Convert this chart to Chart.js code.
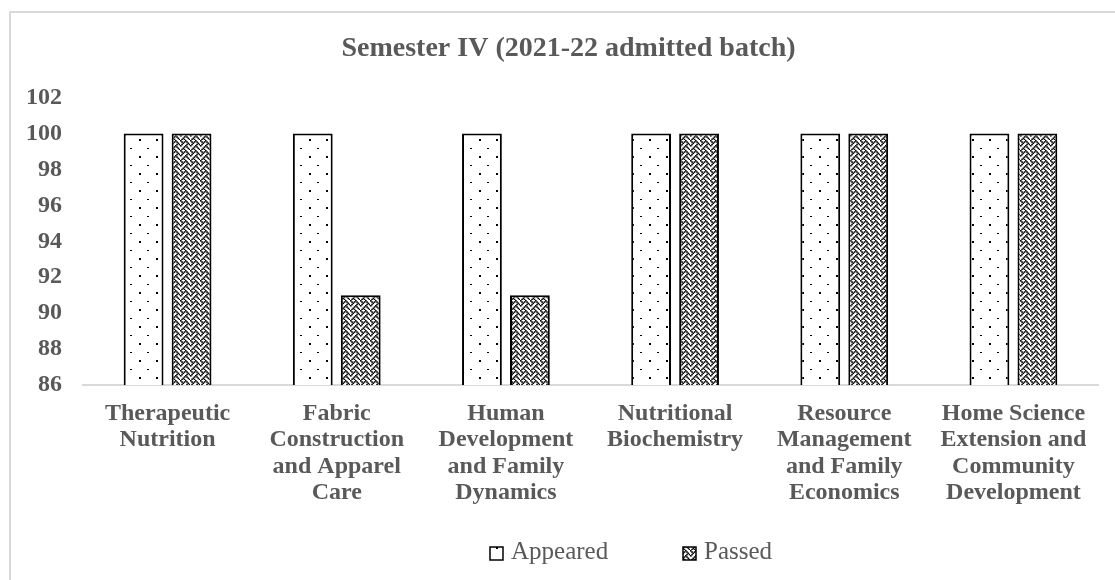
<!DOCTYPE html>
<html>
<head>
<meta charset="utf-8">
<script src="https://cdn.jsdelivr.net/npm/chart.js@4.4.1/dist/chart.umd.min.js"></script>
<style>
  html, body { margin: 0; padding: 0; background: #fff; }
  #wrap { width: 1115px; height: 580px; position: relative; }
</style>
</head>
<body>
<div id="wrap"><canvas id="semChart" width="1115" height="580"></canvas></div>
<script>
const categories = [
  ['Therapeutic', 'Nutrition'],
  ['Fabric', 'Construction', 'and Apparel', 'Care'],
  ['Human', 'Development', 'and Family', 'Dynamics'],
  ['Nutritional', 'Biochemistry'],
  ['Resource', 'Management', 'and Family', 'Economics'],
  ['Home Science', 'Extension and', 'Community', 'Development']
];
const appeared = [100, 100, 100, 100, 100, 100];
const passed = [100, 91, 91, 100, 100, 100];
const yMin = 86;
const yMax = 102;
const yStep = 2;

const textColor = '#595959';
const serif = "'Liberation Serif', 'Times New Roman', serif";

// sparse dotted fill (Appeared)
function dotPattern() {
  const c = document.createElement('canvas');
  c.width = 17; c.height = 17;
  const x = c.getContext('2d');
  x.fillStyle = '#fff';
  x.fillRect(0, 0, 17, 17);
  x.fillStyle = '#000';
  x.fillRect(3, 3, 2, 2);
  x.fillRect(11, 12, 2, 1);
  return x.createPattern(c, 'repeat');
}

// weave fill (Passed), 8x8 bitmap drawn a bit larger
function weavePattern() {
  const rows = [0x88, 0x54, 0x22, 0x45, 0x88, 0x14, 0x22, 0x51];
  const s = 1.25;
  const c = document.createElement('canvas');
  c.width = 10; c.height = 10;
  const x = c.getContext('2d');
  x.fillStyle = '#fff';
  x.fillRect(0, 0, 10, 10);
  x.fillStyle = '#000';
  rows.forEach((r, j) => {
    for (let i = 0; i < 8; i++) {
      if (r & (0x80 >> i)) x.fillRect(i * s, j * s, 1.6, 1.6);
    }
  });
  return x.createPattern(c, 'repeat');
}

const frame = {
  id: 'frame',
  afterLayout(chart) {
    // title is centred on the wider Excel frame, a bit right of the canvas middle
    if (chart.titleBlock) chart.titleBlock.left = 39;
  },
  beforeDraw(chart) {
    const ctx = chart.ctx;
    ctx.save();
    ctx.fillStyle = '#fff';
    ctx.fillRect(0, 0, chart.width, chart.height);
    ctx.strokeStyle = '#d9d9d9';
    ctx.lineWidth = 2;
    ctx.strokeRect(10, 12, 1300, 1000);
    ctx.restore();
  }
};

const legendBoxes = {
  id: 'legendBoxes',
  afterDraw(chart) {
    const ctx = chart.ctx;
    const starts = [490, 683];
    ctx.save();
    ctx.font = '25px ' + serif;
    ctx.textBaseline = 'middle';
    chart.data.datasets.forEach((ds, i) => {
      const bx = starts[i];
      const by = 547;
      ctx.fillStyle = ds.backgroundColor;
      ctx.fillRect(bx, by, 13, 13);
      ctx.strokeStyle = '#000';
      ctx.lineWidth = 1.5;
      ctx.strokeRect(bx, by, 13, 13);
      ctx.fillStyle = textColor;
      ctx.fillText(ds.label, bx + 21, by + 5);
    });
    ctx.restore();
  }
};

const ctx = document.getElementById('semChart').getContext('2d');
const semChart = new Chart(ctx, {
  type: 'bar',
  data: {
    labels: categories,
    datasets: [
      {
        label: 'Appeared',
        data: appeared,
        backgroundColor: dotPattern(),
        borderColor: '#000',
        borderWidth: 2
      },
      {
        label: 'Passed',
        data: passed,
        backgroundColor: weavePattern(),
        borderColor: '#000',
        borderWidth: 2
      }
    ]
  },
  options: {
    responsive: false,
    animation: false,
    devicePixelRatio: 1,
    layout: {
      padding: { left: 0, right: 17, top: 0, bottom: 73 }
    },
    datasets: {
      bar: {
        categoryPercentage: 0.567,
        barPercentage: 0.83
      }
    },
    plugins: {
      legend: { display: false },
      tooltip: { enabled: false },
      title: {
        display: true,
        text: 'Semester IV (2021-22 admitted batch)',
        color: textColor,
        font: { family: serif, size: 28, weight: 'bold', lineHeight: 1.2 },
        padding: { top: 32, bottom: 32 }
      }
    },
    scales: {
      x: {
        grid: { display: false, drawTicks: false },
        border: { display: true, color: '#d9d9d9', width: 2 },
        ticks: {
          color: textColor,
          autoSkip: false,
          maxRotation: 0,
          padding: 15,
          font: { family: serif, size: 24, weight: 'bold', lineHeight: 1.11 }
        },
        afterFit(scale) { scale.height = 122; }
      },
      y: {
        min: yMin,
        max: yMax,
        grid: { display: false, drawTicks: false },
        border: { display: false },
        ticks: {
          stepSize: yStep,
          color: textColor,
          padding: 21,
          font: { family: serif, size: 24, weight: 'bold' }
        },
        afterFit(scale) { scale.width = 83; }
      }
    }
  },
  plugins: [frame, legendBoxes]
});
</script>
</body>
</html>
